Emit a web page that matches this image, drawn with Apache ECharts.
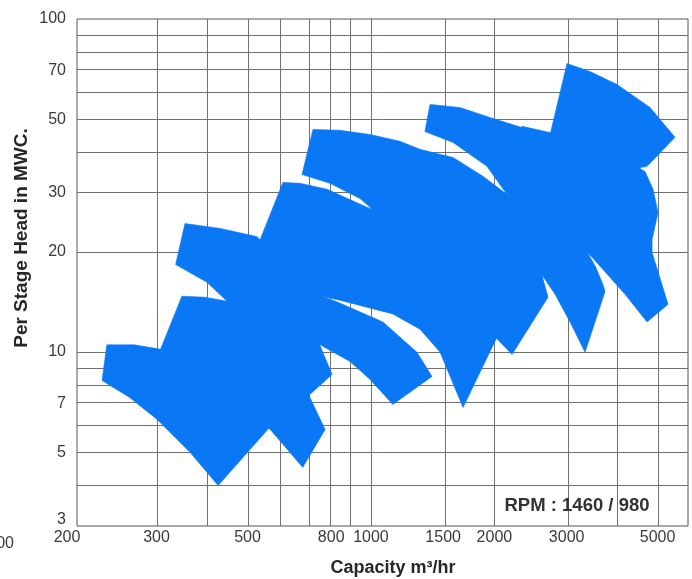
<!DOCTYPE html>
<html><head><meta charset="utf-8">
<script src="https://cdn.jsdelivr.net/npm/echarts@6/dist/echarts.min.js"></script>
<style>html,body{margin:0;padding:0;background:#fff}#c{width:692px;height:579px}</style>
</head><body><div id="c"></div>
<script>
// ---- axis data ----
const xTickLabels = [200, 300, 500, 800, 1000, 1500, 2000, 3000, 5000];
const yTickLabels = [3, 5, 7, 10, 20, 30, 50, 70, 100];
const xGridValues = [300, 400, 500, 600, 700, 800, 900, 1000, 1500, 2000, 3000, 4000, 5000];
const yGridValues = [4, 5, 6, 7, 8, 9, 10, 20, 30, 40, 50, 60, 70, 80, 90];
const xRange = [192, 5930];
const yRange = [3, 100];

// ---- coverage tiles: [capacity m3/hr, head m] outlines ----
const tileA = [[227,10.5],[265,10.5],[305,10.2],[383,8.86],[479,7.46],[583,6.18],[424,3.97],[362,5.0],[301,6.27],[258,7.3],[221,8.21]];
const tileB = [[346,14.7],[394,14.6],[446,14.2],[516,13.5],[600,11.6],[671,9.0],[710,7.3],[773,5.85],[682,4.5],[568,5.85],[453,7.46],[362,9.05],[305,10.0]];
const tileC = [[352,24.3],[429,23.5],[527,22.2],[617,18.3],[690,13.9],[743,10.8],[804,8.56],[701,7.35],[600,9.83],[507,12.5],[446,14.2],[398,16.2],[334,18.3]];
const tileD = [[507,16.5],[671,15.6],[831,14.1],[1070,12.3],[1295,9.97],[1409,8.44],[1131,6.95],[995,8.27],[889,9.36],[722,10.8],[600,11.7],[493,12.5]];
const tileE = [[610,32.3],[671,32.1],[782,30.8],[978,27.2],[1177,24.7],[1473,21.3],[1744,18.7],[2309,15.4],[1677,6.81],[1473,10.0],[1317,11.7],[1131,13.0],[840,14.3],[671,15.2],[493,16.7]];
const tileF = [[722,46.6],[840,46.3],[995,45.0],[1177,42.9],[1317,40.6],[1585,38.4],[1876,33.7],[2147,29.7],[2309,25.9],[2442,22.1],[2583,17.9],[2702,14.6],[2208,9.83],[2006,11.1],[1744,14.9],[1473,18.7],[1177,23.0],[1023,26.4],[940,28.9],[794,32.1],[679,34.1]];
const tileG = [[1393,55.4],[1649,54.2],[1951,50.6],[2335,47.2],[2733,43.5],[3058,34.1],[3234,25.9],[3365,20.0],[3539,17.9],[3680,15.9],[3722,15.2],[3327,9.97],[3058,12.3],[2811,14.9],[2598,17.2],[2442,21.0],[2309,24.7],[2147,29.7],[1918,36.1],[1585,42.6],[1354,45.9]];
const tileH = [[2335,47.6],[2733,45.6],[3422,41.4],[4164,37.9],[4660,34.8],[4874,30.8],[5012,26.2],[4847,21.8],[4847,19.9],[5302,13.9],[4713,12.3],[4164,14.9],[3722,17.4],[3365,20.0],[3058,23.7],[2657,29.7],[2309,35.3]];
const tileI = [[3006,73.5],[3422,69.5],[3981,63.6],[4793,54.2],[5514,44.1],[4713,36.1],[4048,34.8],[3422,37.3],[2717,43.5]];

const tiles = [tileA, tileB, tileC, tileD, tileE, tileF, tileG, tileH, tileI];

const BLUE = '#0a78f5';
const GRID = '#707070';
const FONT = '"Liberation Sans", Arial, sans-serif';
const L = Math.log10;

function nearest(list, v) {
  let best = list[0];
  for (const t of list) if (Math.abs(L(t) - v) < Math.abs(L(best) - v)) best = t;
  return best;
}

const chart = echarts.init(document.getElementById('c'), null, {renderer: 'canvas'});

const tileSeries = tiles.map(t => ({
  type: 'custom',
  coordinateSystem: 'cartesian2d',
  z: 10,
  silent: true,
  animation: false,
  data: t.map(p => [L(p[0]), L(p[1])]),
  encode: {x: 0, y: 1},
  renderItem: function (params, api) {
    if (params.dataIndex !== 0) return null;
    const pts = t.map(p => api.coord([L(p[0]), L(p[1])]));
    return {type: 'polygon', shape: {points: pts}, style: {fill: BLUE, stroke: BLUE, lineWidth: 0.6}};
  }
}));

const gridSeries = {
  type: 'line',
  z: 1,
  silent: true,
  animation: false,
  showSymbol: false,
  lineStyle: {opacity: 0},
  data: [[L(xRange[0]), L(yRange[0])]],
  markLine: {
    z: 1,
    silent: true,
    animation: false,
    symbol: ['none', 'none'],
    label: {show: false},
    emphasis: {disabled: true},
    lineStyle: {color: GRID, width: 1, type: 'solid'},
    data: [
      ...xGridValues.map(v => ({xAxis: L(v)})),
      ...yGridValues.map(v => ({yAxis: L(v)}))
    ]
  }
};

chart.setOption({
  animation: false,
  backgroundColor: '#ffffff',
  grid: {
    left: 77, right: 4, top: 19, bottom: 53,
    show: true, borderColor: '#555', borderWidth: 1,
    containLabel: false, outerBoundsMode: 'none'
  },
  xAxis: {
    type: 'value',
    min: L(xRange[0]), max: L(xRange[1]),
    axisLine: {show: false}, axisTick: {show: false}, splitLine: {show: false},
    axisLabel: {
      customValues: xTickLabels.map(v => v === 200 ? L(xRange[0]) : L(v)),
      margin: 4,
      color: '#3a3a3a', fontSize: 16, fontFamily: FONT,
      formatter: v => { const n = nearest(xTickLabels, v); return n === 200 ? '{a|200}' : String(n); },
      rich: {a: {fontSize: 16, color: '#3a3a3a', fontFamily: FONT, padding: [0, 20, 0, 0]}}
    }
  },
  yAxis: {
    type: 'value',
    min: L(yRange[0]), max: L(yRange[1]),
    axisLine: {show: false}, axisTick: {show: false}, splitLine: {show: false},
    axisLabel: {
      customValues: yTickLabels.map(v => L(v)),
      margin: 11,
      color: '#3a3a3a', fontSize: 16, fontFamily: FONT,
      formatter: v => { const n = nearest(yTickLabels, v); return n === 3 ? '{a|3}' : String(n); },
      rich: {a: {fontSize: 16, color: '#3a3a3a', fontFamily: FONT, padding: [0, 0, 12, 0]}}
    }
  },
  graphic: [
    {type: 'text', x: 22, y: 238, rotation: Math.PI / 2,
      style: {text: 'Per Stage Head in MWC.', font: 'bold 19px ' + FONT, fill: '#262626', align: 'center', verticalAlign: 'middle'}},
    {type: 'text', x: 393, y: 568,
      style: {text: 'Capacity m³/hr', font: 'bold 18px ' + FONT, fill: '#262626', align: 'center', verticalAlign: 'middle'}},
    {type: 'text', x: 577, y: 506, z: 20,
      style: {text: 'RPM : 1460 / 980', font: 'bold 18.5px ' + FONT, fill: '#333333', align: 'center', verticalAlign: 'middle'}},
    {type: 'text', x: 14, y: 544,
      style: {text: '00', font: '16px ' + FONT, fill: '#3a3a3a', align: 'right', verticalAlign: 'middle'}}
  ],
  series: [gridSeries, ...tileSeries]
});
</script>
</body></html>
